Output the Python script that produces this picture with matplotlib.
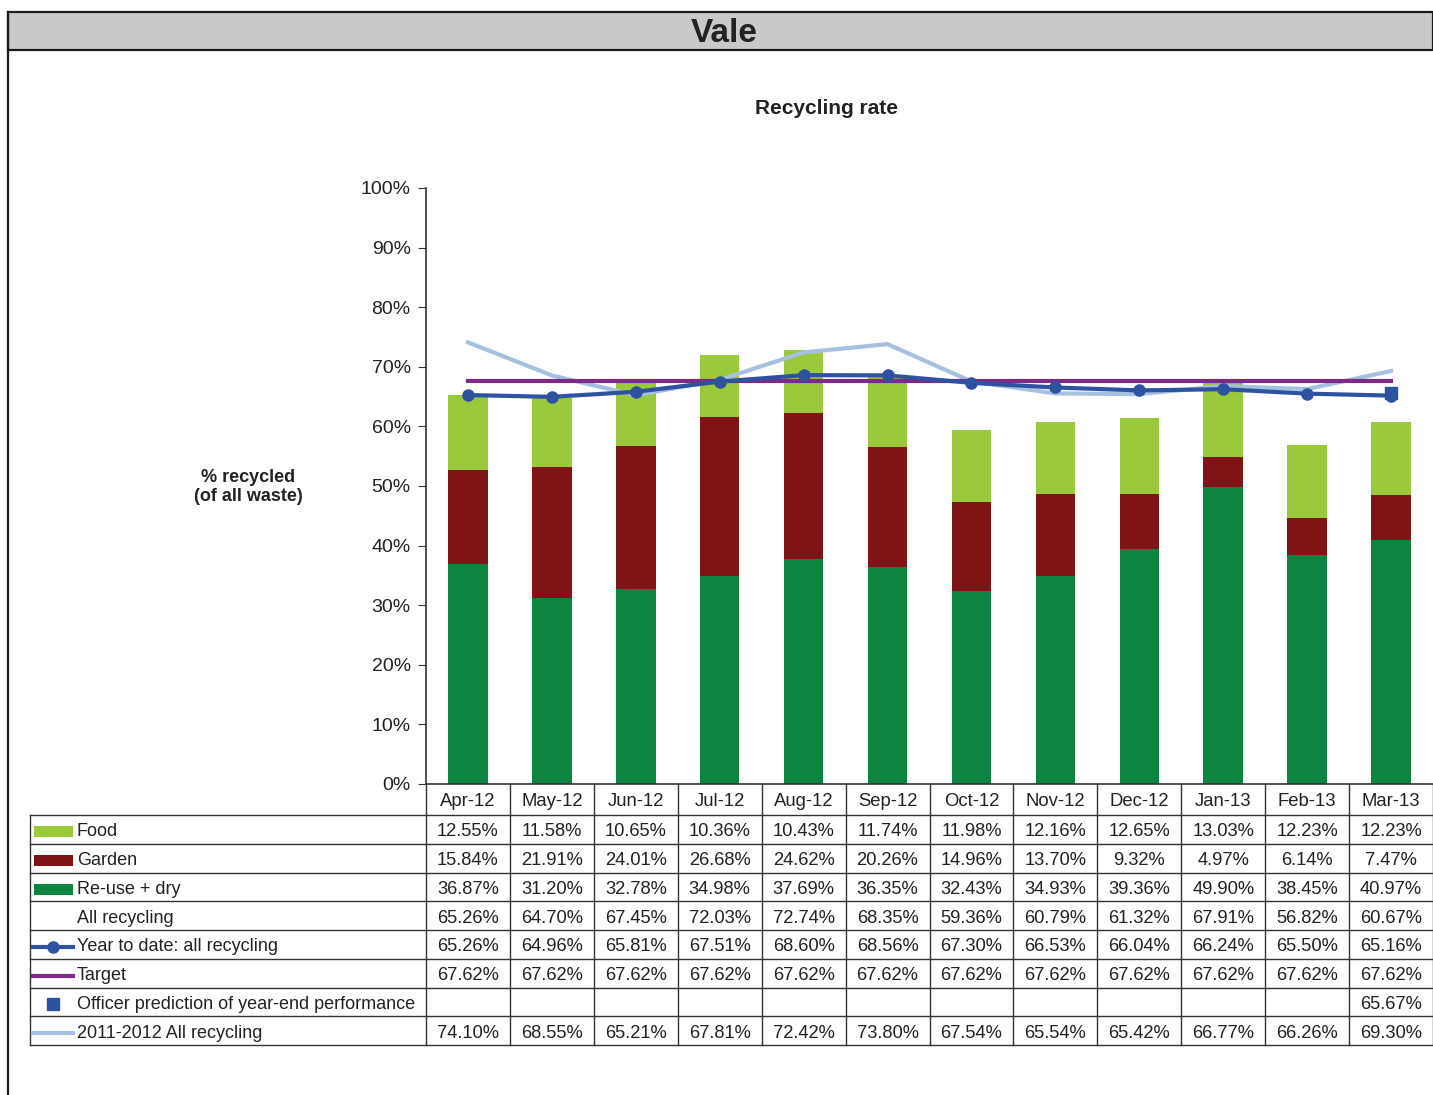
import numpy as np
import matplotlib.pyplot as plt
from matplotlib import transforms
from matplotlib.patches import Rectangle

plt.rcParams['font.family'] = ['Liberation Sans', 'DejaVu Sans']

months = ['Apr-12', 'May-12', 'Jun-12', 'Jul-12', 'Aug-12', 'Sep-12',
          'Oct-12', 'Nov-12', 'Dec-12', 'Jan-13', 'Feb-13', 'Mar-13']
food = [12.55, 11.58, 10.65, 10.36, 10.43, 11.74, 11.98, 12.16, 12.65, 13.03, 12.23, 12.23]
garden = [15.84, 21.91, 24.01, 26.68, 24.62, 20.26, 14.96, 13.70, 9.32, 4.97, 6.14, 7.47]
reuse = [36.87, 31.20, 32.78, 34.98, 37.69, 36.35, 32.43, 34.93, 39.36, 49.90, 38.45, 40.97]
all_rec = [65.26, 64.70, 67.45, 72.03, 72.74, 68.35, 59.36, 60.79, 61.32, 67.91, 56.82, 60.67]
ytd = [65.26, 64.96, 65.81, 67.51, 68.60, 68.56, 67.30, 66.53, 66.04, 66.24, 65.50, 65.16]
target = [67.62] * 12
officer = [None] * 11 + [65.67]
prev_year = [74.10, 68.55, 65.21, 67.81, 72.42, 73.80, 67.54, 65.54, 65.42, 66.77, 66.26, 69.30]

c_food = '#9ac93c'
c_garden = '#7e1416'
c_reuse = '#0d8440'
c_ytd = '#2f52a0'
c_target = '#7c2a83'
c_prev = '#a6c0e0'
c_line = '#333333'

W, H = 1433, 1095
fig = plt.figure(figsize=(W / 100, H / 100), dpi=100)

# background axes in pixel coords for frame + table
bg = fig.add_axes([0, 0, 1, 1])
bg.set_xlim(0, W)
bg.set_ylim(H, 0)
bg.axis('off')

bg.add_patch(Rectangle((8, 12), W - 8, 38, facecolor='#c8c9cb',
                       edgecolor='#1a1a1a', lw=1.6))
bg.plot([8, 8], [12, H], color='#1a1a1a', lw=1.6)
bg.text(724, 33, 'Vale', ha='center', va='center', fontsize=24, fontweight='bold',
        color='#222222')
bg.text(827, 109, 'Recycling rate', ha='center', va='center', fontsize=15,
        fontweight='bold', color='#222222')
bg.text(248, 487, '% recycled\n(of all waste)', ha='center', va='center',
        fontsize=13, fontweight='bold', color='#222222', linespacing=1.2)

# chart
ax = fig.add_axes([426 / W, 1 - 784 / H, 1007 / W, 596 / H])
ax.patch.set_alpha(0)
x = np.arange(len(months))
reuse_a = np.array(reuse)
garden_a = np.array(garden)
bw = 0.47
ax.bar(x, reuse, bw, color=c_reuse, zorder=2)
ax.bar(x, garden, bw, bottom=reuse_a, color=c_garden, zorder=2)
ax.bar(x, food, bw, bottom=reuse_a + garden_a, color=c_food, zorder=2)

ax.plot(x, prev_year, color=c_prev, lw=3, zorder=3)
ax.plot(x, target, color=c_target, lw=3, zorder=4)
ax.plot(x, ytd, color=c_ytd, lw=3, marker='o', markersize=8, zorder=5)
off_x = [i for i, v in enumerate(officer) if v is not None]
off_y = [v for v in officer if v is not None]
ax.plot(off_x, off_y, linestyle='none', marker='s', markersize=8, color=c_ytd, zorder=6)

ax.set_xlim(-0.5, len(months) - 0.5)
ax.set_ylim(0, 100)
ax.set_yticks(np.arange(0, 101, 10))
ax.set_yticklabels([f'{v}%' for v in range(0, 101, 10)])
ax.set_xticks([])
ax.tick_params(axis='y', direction='out', length=6, labelsize=14, pad=5,
               color=c_line, labelcolor='#222222')
for s in ['top', 'right']:
    ax.spines[s].set_visible(False)
for s in ['left', 'bottom']:
    ax.spines[s].set_color(c_line)
    ax.spines[s].set_linewidth(1.2)

# data table under chart
tr = transforms.blended_transform_factory(ax.transData, bg.transData)
top, hdr_bot, bot = 784, 815, 1045
rows = [('Food', food), ('Garden', garden), ('Re-use + dry', reuse),
        ('All recycling', all_rec), ('Year to date: all recycling', ytd),
        ('Target', target), ('Officer prediction of year-end performance', officer),
        ('2011-2012 All recycling', prev_year)]
rh = (bot - hdr_bot) / len(rows)

for k in range(len(months) + 1):
    bg.plot([k - 0.5, k - 0.5], [top, bot], color=c_line, lw=1, transform=tr)
bg.plot([30, 30], [hdr_bot, bot], color=c_line, lw=1)
for r in range(len(rows) + 1):
    yy = hdr_bot + r * rh
    bg.plot([30, W], [yy, yy], color=c_line, lw=1)

for i, m in enumerate(months):
    bg.text(i, (top + hdr_bot) / 2 + 2, m, ha='center', va='center', fontsize=13.3,
            color='#222222', transform=tr)


def key_y(r):
    return hdr_bot + (r + 0.5) * rh + 2.5


for r, (label, vals) in enumerate(rows):
    yc = key_y(r)
    bg.text(77, yc, label, ha='left', va='center', fontsize=13, color='#222222')
    for i, v in enumerate(vals):
        if v is None:
            continue
        bg.text(i, yc, f'{v:.2f}%', ha='center', va='center', fontsize=13.2,
                color='#222222', transform=tr)

# legend keys
for r, col in enumerate([c_food, c_garden, c_reuse]):
    bg.add_patch(Rectangle((34, key_y(r) - 5.5), 39, 11, facecolor=col, edgecolor='none'))
bg.plot([33, 73], [key_y(4)] * 2, color=c_ytd, lw=3)
bg.plot([53], [key_y(4)], marker='o', markersize=8, color=c_ytd)
bg.plot([33, 73], [key_y(5)] * 2, color=c_target, lw=3)
bg.plot([53], [key_y(6)], marker='s', markersize=8, color=c_ytd)
bg.plot([33, 73], [key_y(7)] * 2, color=c_prev, lw=3)

fig.savefig('out.png', dpi=100)
